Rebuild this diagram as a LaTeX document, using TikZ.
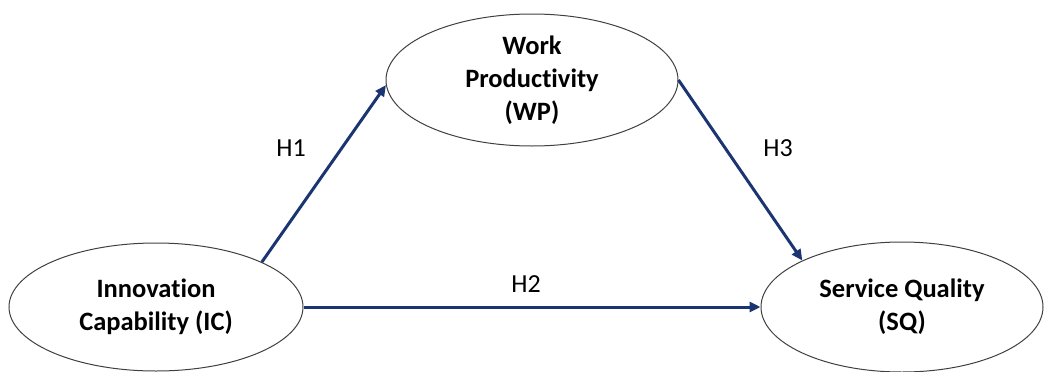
\documentclass[tikz,border=0pt]{standalone}
\usepackage{fontspec}
\setmainfont{Carlito}[Ligatures=NoCommon]
\usepackage{tikz}
\usetikzlibrary{arrows.meta}
\usetikzlibrary{shapes.geometric}

\definecolor{pathblue}{HTML}{1B3472}

\begin{document}
\begin{tikzpicture}[x=1pt,y=-1pt,
		construct/.style={ellipse,draw=black!75,line width=1pt,inner sep=0pt,align=center,
			font=\fontsize{26.5}{33}\selectfont\bfseries},
		path/.style={draw=pathblue,line width=3pt,-{Triangle[length=11pt,width=10pt]}},
		hyp/.style={font=\fontsize{26}{30}\selectfont}]
			\useasboundingbox (0,0) rectangle (1044,372);
			
			% constructs
			
			\node[construct,minimum width=294pt,minimum height=128pt] (IC) at (156,307) {Innovation\\Capability (IC)};
			\node[construct,minimum width=292pt,minimum height=132pt] (WP) at (532,80) {Work\\Productivity\\(WP)};
			\node[construct,minimum width=282pt,minimum height=130pt] (SQ) at (902,307) {Service Quality\\(SQ)};
			
			% hypotheses
			
			\draw[path] (IC.23) -- (WP.182);
			\draw[path] (IC.east) -- (SQ.west);
			\draw[path] (WP.east) -- (SQ.155);
			
			\node[hyp] (H1) at (291,148) {H1};
			\node[hyp] (H2) at (526,284) {H2};
			\node[hyp] (H3) at (778,148) {H3};
		\end{tikzpicture}
\end{document}
